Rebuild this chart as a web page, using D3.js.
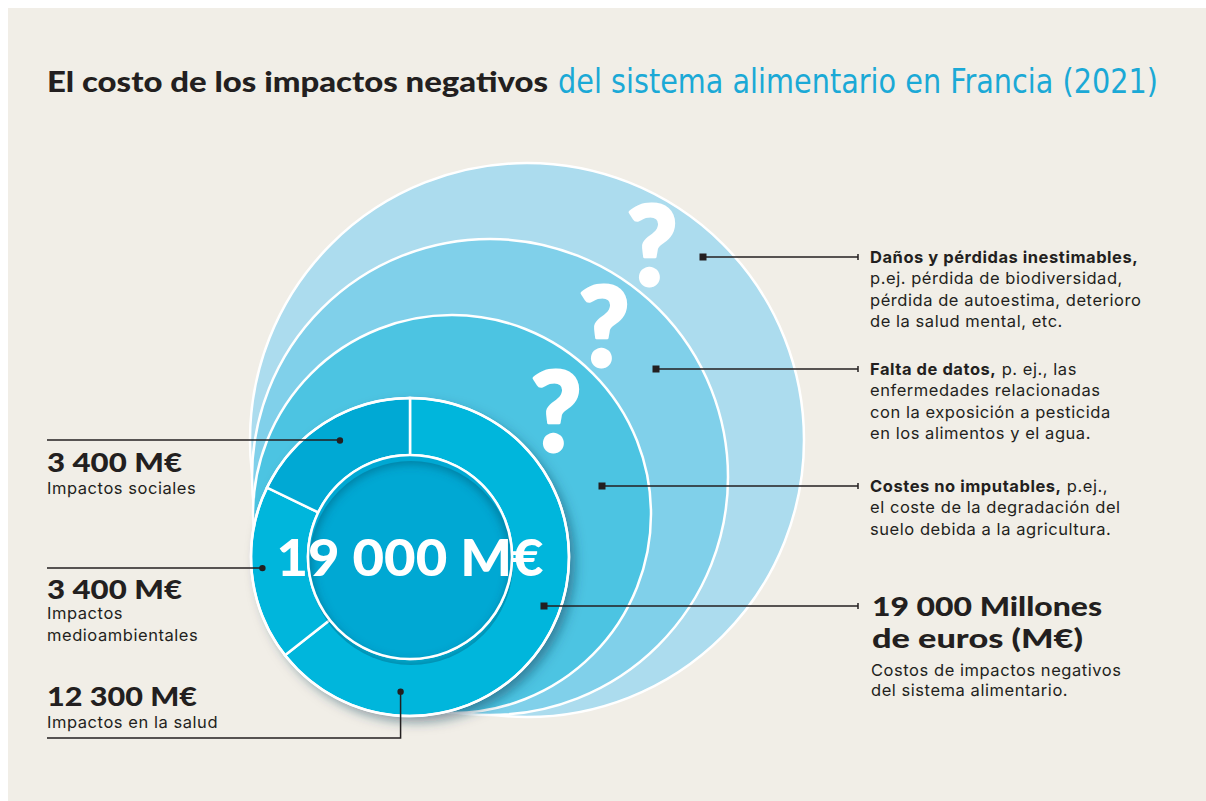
<!DOCTYPE html>
<html>
<head>
<meta charset="utf-8">
<script src="https://cdn.jsdelivr.net/npm/d3@7"></script>
<style>
  html, body { margin: 0; padding: 0; background: #ffffff; }
  svg { display: block; }
</style>
</head>
<body>
<div id="chart"></div>
<script>
// Data
var segmentNames = ["Impactos en la salud", "Impactos medioambientales", "Impactos sociales"];
var segmentValues = [12300, 3400, 3400];
var segmentAmounts = ["12 300 M€", "3 400 M€", "3 400 M€"];
var totalLabel = "19 000 M€";
var totalTitle = ["19 000 Millones", "de euros (M€)"];
var totalNote = ["Costos de impactos negativos", "del sistema alimentario."];

// hidden cost layers, outermost first
var layerNames = ["Daños y pérdidas inestimables", "Falta de datos", "Costes no imputables"];
var layerNotes = [
  [[["Daños y pérdidas inestimables,", true]], [["p.ej. pérdida de biodiversidad,", false]],
   [["pérdida de autoestima, deterioro", false]], [["de la salud mental, etc.", false]]],
  [[["Falta de datos,", true], [" p. ej., las", false]], [["enfermedades relacionadas", false]],
   [["con la exposición a pesticida", false]], [["en los alimentos y el agua.", false]]],
  [[["Costes no imputables,", true], [" p.ej.,", false]], [["el coste de la degradación del", false]],
   [["suelo debida a la agricultura.", false]]]
];

var titleDark = "El costo de los impactos negativos";
var titleBlue = "del sistema alimentario en Francia (2021)";

// Layout
var W = 1206, H = 801;
var ink = "#231f20";
var bodyFont = "Inter, 'Noto Sans', sans-serif";
var bodySize = 16.5, bodySpacing = 0.55;
var headFont = "Lato, 'Noto Sans', sans-serif";

var svg = d3.select("#chart").append("svg")
    .attr("width", W)
    .attr("height", H);

var defs = svg.append("defs");
defs.append("filter").attr("id", "drop")
    .attr("x", "-20%").attr("y", "-20%").attr("width", "150%").attr("height", "150%")
  .append("feDropShadow")
    .attr("dx", 6).attr("dy", 6).attr("stdDeviation", 6)
    .attr("flood-color", "#0b3d55").attr("flood-opacity", 0.5);
defs.append("filter").attr("id", "blur")
  .append("feGaussianBlur").attr("stdDeviation", 5);

svg.append("rect")
    .attr("x", 8).attr("y", 8)
    .attr("width", W - 8).attr("height", H - 8)
    .attr("fill", "#f1eee7");

// Title
svg.append("text")
    .attr("x", 47).attr("y", 92)
    .attr("font-family", headFont).attr("font-weight", 900)
    .attr("font-size", 28).attr("fill", ink)
    .attr("textLength", 501).attr("lengthAdjust", "spacingAndGlyphs")
    .text(titleDark);
svg.append("text")
    .attr("x", 558).attr("y", 93)
    .attr("font-family", "'Liberation Sans Narrow', 'DejaVu Sans Condensed', sans-serif")
    .attr("font-weight", 500)
    .attr("font-size", 34).attr("fill", "#1ba9d6")
    .attr("textLength", 600).attr("lengthAdjust", "spacingAndGlyphs")
    .text(titleBlue);

// Layer circles (outermost first), all resting near the donut's bottom-left
var layers = [
  {cx: 527, cy: 440, r: 277, fill: "#acdcee", marker: [703, 257], q: [652, 285]},
  {cx: 490, cy: 477, r: 238, fill: "#80d0ea", marker: [656, 369], q: [604, 366]},
  {cx: 452, cy: 514, r: 199, fill: "#4cc4e2", marker: [602, 486], q: [556, 451]}
];
layers.forEach(function(d, i) { d.name = layerNames[i]; d.note = layerNotes[i]; });

svg.append("g").selectAll("circle")
    .data(layers)
    .enter().append("circle")
    .attr("cx", function(d) { return d.cx; })
    .attr("cy", function(d) { return d.cy; })
    .attr("r", function(d) { return d.r; })
    .attr("fill", function(d) { return d.fill; })
    .attr("stroke", "#ffffff").attr("stroke-width", 2.5);

svg.append("g").selectAll("text")
    .data(layers)
    .enter().append("text")
    .attr("x", function(d) { return d.q[0]; })
    .attr("y", function(d) { return d.q[1]; })
    .attr("text-anchor", "middle")
    .attr("font-family", headFont).attr("font-weight", 900)
    .attr("font-size", 110).attr("fill", "#ffffff")
    .attr("stroke", "#ffffff").attr("stroke-width", 3).attr("stroke-linejoin", "round")
    .text("?");

// Donut
var cx = 410, cy = 557, rIn = 102, rOut = 159;
var segColors = ["#00b6dc", "#00b6dc", "#00a9d4"];
var pie = d3.pie().sort(null).value(function(d) { return d; });
var arc = d3.arc().innerRadius(rIn).outerRadius(rOut);
var arcs = pie(segmentValues);

var donut = svg.append("g").attr("transform", "translate(" + cx + "," + cy + ")");
donut.append("circle").attr("r", rOut)
    .attr("fill", "#00b6dc")
    .attr("filter", "url(#drop)");
donut.selectAll("path")
    .data(arcs)
    .enter().append("path")
    .attr("d", arc)
    .attr("fill", function(d, i) { return segColors[i]; })
    .attr("stroke", "#ffffff").attr("stroke-width", 2.5);
donut.append("circle").attr("r", rOut)
    .attr("fill", "none").attr("stroke", "#ffffff").attr("stroke-width", 2.5);

defs.append("clipPath").attr("id", "innerClip")
  .append("circle").attr("r", rIn);
donut.append("circle").attr("r", rIn).attr("fill", "#00a8d3");
donut.append("circle")
    .attr("clip-path", "url(#innerClip)")
    .attr("cx", 0).attr("cy", 0).attr("r", rIn + 4)
    .attr("fill", "none").attr("stroke", "#004a66").attr("stroke-width", 14)
    .attr("stroke-opacity", 0.45).attr("transform", "translate(1,6)")
    .attr("filter", "url(#blur)");
donut.append("circle").attr("r", rIn)
    .attr("fill", "none").attr("stroke", "#ffffff").attr("stroke-width", 2.5);

donut.append("text")
    .attr("x", 0).attr("y", 19)
    .attr("text-anchor", "middle")
    .attr("font-family", headFont).attr("font-weight", 900)
    .attr("font-size", 51).attr("fill", "#ffffff")
    .attr("textLength", 267).attr("lengthAdjust", "spacingAndGlyphs")
    .text(totalLabel);

// Left callouts: dot position on segment (angle in degrees, radius) and label block
var leftCallouts = [
  {angle: 184, radius: 135, lineY: 738, valueY: 706, nameY: 728, width: 150},
  {angle: 265.7, radius: 148, lineY: 568, valueY: 599, nameY: 619, width: 135},
  {angle: 329, radius: 136, lineY: 440, valueY: 472, nameY: 494, width: 135}
];

var left = svg.append("g");
leftCallouts.forEach(function(c, i) {
  var p = d3.pointRadial(c.angle * Math.PI / 180, c.radius);
  var px = cx + p[0], py = cy + p[1];
  var path = d3.path();
  path.moveTo(47, c.lineY);
  path.lineTo(px, c.lineY);
  if (Math.abs(py - c.lineY) > 1) path.lineTo(px, py);
  left.append("path").attr("d", path.toString())
      .attr("fill", "none").attr("stroke", ink).attr("stroke-width", 1.5);
  left.append("circle").attr("cx", px).attr("cy", py).attr("r", 3.2).attr("fill", ink);
  left.append("text")
      .attr("x", 47).attr("y", c.valueY)
      .attr("font-family", headFont).attr("font-weight", 900)
      .attr("font-size", 27).attr("fill", ink)
      .attr("textLength", c.width).attr("lengthAdjust", "spacingAndGlyphs")
      .text(segmentAmounts[i]);
  var words = i === 1 ? ["Impactos", "medioambientales"] : [segmentNames[i]];
  words.forEach(function(w, j) {
    left.append("text")
        .attr("x", 47).attr("y", c.nameY + j * 22)
        .attr("font-family", bodyFont).attr("font-size", bodySize)
        .attr("letter-spacing", bodySpacing).attr("fill", ink)
        .text(w);
  });
});

// Right callouts
var right = svg.append("g");
var tickX = 858, textX = 870, lh = 21.3;

function leader(mx, my) {
  right.append("line")
      .attr("x1", mx).attr("y1", my).attr("x2", tickX).attr("y2", my)
      .attr("stroke", ink).attr("stroke-width", 1.5);
  right.append("line")
      .attr("x1", tickX).attr("y1", my - 3).attr("x2", tickX).attr("y2", my + 3)
      .attr("stroke", ink).attr("stroke-width", 1.5);
  right.append("rect")
      .attr("x", mx - 3.5).attr("y", my - 3.5).attr("width", 7).attr("height", 7)
      .attr("fill", ink);
}

layers.forEach(function(d) {
  leader(d.marker[0], d.marker[1]);
  d.note.forEach(function(line, j) {
    var t = right.append("text")
        .attr("x", textX).attr("y", d.marker[1] + 6 + j * lh)
        .attr("font-family", bodyFont).attr("font-size", bodySize)
        .attr("letter-spacing", bodySpacing).attr("fill", ink);
    line.forEach(function(part) {
      t.append("tspan")
          .attr("font-weight", part[1] ? 700 : 400)
          .text(part[0]);
    });
  });
});

leader(544, 606);
totalTitle.forEach(function(s, j) {
  right.append("text")
      .attr("x", 872).attr("y", 616 + j * 32)
      .attr("font-family", headFont).attr("font-weight", 900)
      .attr("font-size", 27).attr("fill", ink)
      .attr("textLength", j === 0 ? 230 : 211).attr("lengthAdjust", "spacingAndGlyphs")
      .text(s);
});
totalNote.forEach(function(s, j) {
  right.append("text")
      .attr("x", 871).attr("y", 676 + j * 20)
      .attr("font-family", bodyFont).attr("font-size", bodySize)
      .attr("letter-spacing", bodySpacing).attr("fill", ink)
      .text(s);
});
</script>
</body>
</html>
